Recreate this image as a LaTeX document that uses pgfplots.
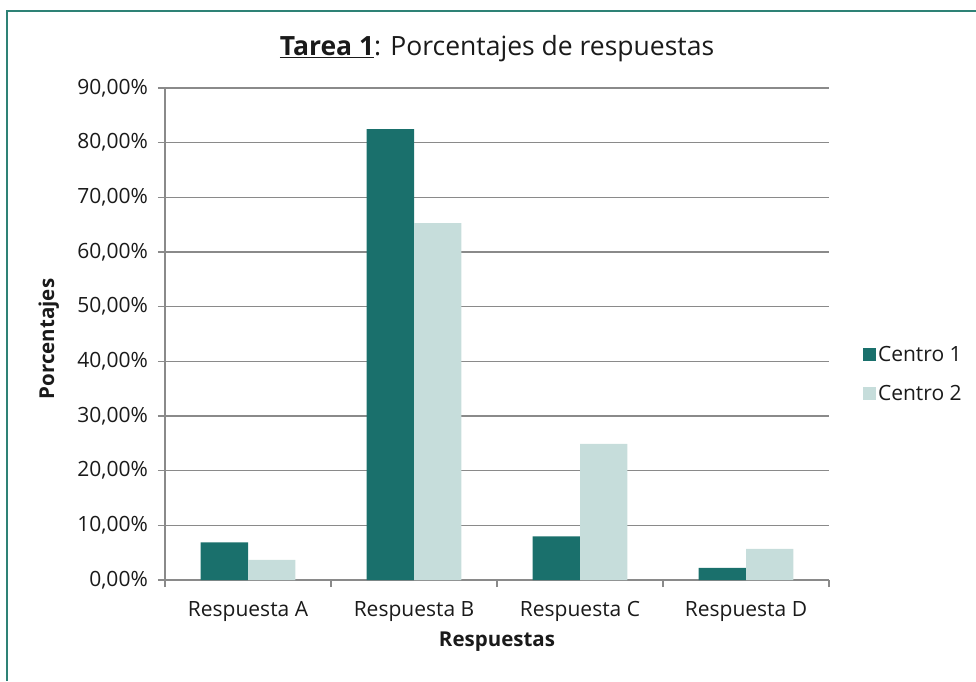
\documentclass[border=0pt]{standalone}
\usepackage{pgfplots}
\pgfplotsset{compat=1.18}
\usepackage{fontspec}
\setmainfont{Open Sans}
\definecolor{c1}{HTML}{1A706C}
\definecolor{c2}{HTML}{C6DDDB}
\definecolor{gridc}{HTML}{8A8A8A}
\definecolor{framec}{HTML}{2E8276}
\definecolor{txt}{HTML}{1A1A1A}
\begin{document}
\begin{tikzpicture}
\useasboundingbox (0,0) rectangle (976pt,681pt);
\draw[framec, line width=2.2pt] (7pt,0) -- (7pt,670pt) -- (977pt,670pt);
\node[anchor=base, text=txt, font=\fontsize{26.5}{30}\selectfont, inner sep=0pt] at (497pt,625pt) {\underline{\textbf{Tarea 1}}: Porcentajes de respuestas};
\begin{axis}[
  at={(165pt,101pt)}, anchor=south west,
  scale only axis, width=664pt, height=492pt,
  ymin=0, ymax=90, xmin=-0.5, xmax=3.5,
  ybar=0pt, bar width=47.3pt,
  axis lines*=left,
  axis line style={gridc, line width=1.2pt},
  tick style={gridc, line width=1.2pt},
  tick align=outside,
  major tick length=7pt, minor tick length=7pt,
  ytick={0,10,...,90},
  xtick={0,1,2,3},
  xticklabels={Respuesta A, Respuesta B, Respuesta C, Respuesta D},
  major x tick style={draw=none},
  minor xtick={-0.5,0.5,1.5,2.5,3.5},
  ymajorgrids,
  grid style={gridc, line width=1.2pt},
  /pgf/number format/assume math mode=true,
  yticklabel={\pgfmathprintnumber[fixed,fixed zerofill,precision=2,use comma]{\tick}\%},
  ticklabel style={font=\fontsize{21}{25}\selectfont, text=txt},
  yticklabel style={anchor=east, inner sep=0pt, xshift=-10pt},
  xticklabel style={anchor=base, inner sep=0pt, yshift=-29pt},
  xlabel={Respuestas}, ylabel={Porcentajes},
  label style={font=\bfseries\fontsize{20.5}{24}\selectfont, text=txt},
  xlabel style={at={(axis description cs:0.5,0)}, anchor=base, inner sep=0pt, yshift=-66pt},
  ylabel style={at={(axis description cs:-0.175,0.49)}, anchor=center, inner sep=0pt},
  legend style={at={(rel axis cs:1.051,0.419)}, anchor=west, draw=none, fill=none,
    font=\fontsize{21}{25}\selectfont, text=txt, row sep=18pt, inner sep=0pt,
    nodes={inner sep=2pt}},
  legend cell align=left,
  legend image code/.code={\fill[#1] (0pt,-6.5pt) rectangle (13pt,6.5pt);},
]
\addplot[fill=c1, draw=none] coordinates {(0,6.87) (1,82.5) (2,8.0) (3,2.2)};
\addplot[fill=c2, draw=none] coordinates {(0,3.68) (1,65.3) (2,24.9) (3,5.7)};
\legend{Centro 1, Centro 2}
\end{axis}
\end{tikzpicture}
\end{document}
